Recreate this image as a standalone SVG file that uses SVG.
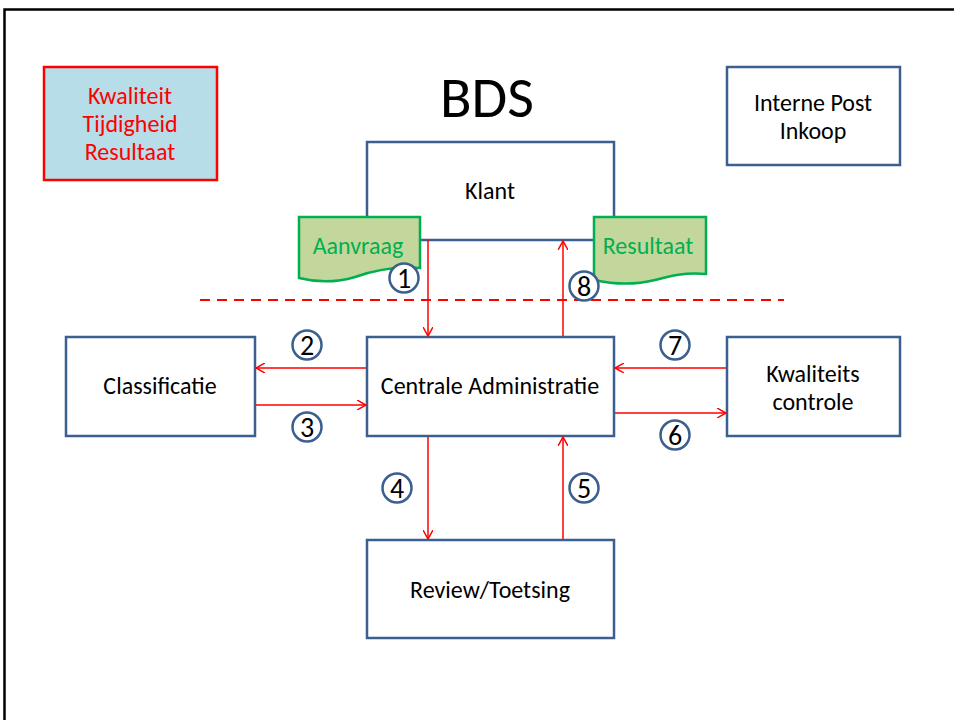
<svg xmlns="http://www.w3.org/2000/svg" width="954" height="720" viewBox="0 0 954 720">
<defs>
<marker id="ah" viewBox="0 0 10 10" refX="9" refY="5" markerWidth="10" markerHeight="10" markerUnits="userSpaceOnUse" orient="auto">
<path d="M0,0 L9,5 L0,10" fill="none" stroke="#ff0000" stroke-width="1.5"/>
</marker>
</defs>
<style>
text{font-family:"Carlito","Liberation Sans",Arial,sans-serif;text-anchor:middle}
.box{fill:#ffffff;stroke:#3b5f8e;stroke-width:2.5}
.lbl{font-size:24px;fill:#000}
.red{fill:#ff0000}
.doc{fill:#c3d69b;stroke:#00b050;stroke-width:2.5}
.doct{font-size:24px;fill:#00b050}
.num{fill:#fff;stroke:#3b5f8e;stroke-width:2.5}
.numt{font-size:28px;fill:#000}
.con{stroke:#ff0000;stroke-width:1.5;fill:none;marker-end:url(#ah)}
</style>
<rect x="0" y="0" width="954" height="720" fill="#fff"/>
<path d="M4.5,722 V9.5 H960" fill="none" stroke="#000" stroke-width="2.5"/>
<text x="487" y="117" style="font-size:58px" fill="#000">BDS</text>
<line x1="200" y1="300" x2="784" y2="300" stroke="#ff0000" stroke-width="2" stroke-dasharray="10,7"/>
<g id="kwaliteit">
<rect x="44" y="67" width="173" height="113" fill="#b7dde8" stroke="#ff0000" stroke-width="2.5"/>
<text x="130" y="104" class="lbl red">Kwaliteit</text>
<text x="130" y="132" class="lbl red">Tijdigheid</text>
<text x="130" y="160" class="lbl red">Resultaat</text>
</g>
<g id="interne-post">
<rect x="727" y="67" width="173" height="98" class="box"/>
<text x="813" y="111" class="lbl">Interne Post</text>
<text x="813" y="139" class="lbl">Inkoop</text>
</g>
<g id="klant">
<rect x="367" y="142" width="247" height="98" class="box"/>
<text x="490" y="199" class="lbl">Klant</text>
</g>
<g id="aanvraag">
<path d="M299,217 H420 V268 C395,266 375,270 355,277 C335,283 315,282 299,278 Z" class="doc"/>
<text x="358" y="254" class="doct">Aanvraag</text>
</g>
<g id="resultaat">
<path d="M594,217 H706 V274 C685,272 670,276 655,280 C635,285 612,284 594,280 Z" class="doc"/>
<text x="648" y="254" class="doct">Resultaat</text>
</g>
<g id="centrale">
<rect x="367" y="337" width="247" height="99" class="box"/>
<text x="490" y="394" class="lbl">Centrale Administratie</text>
</g>
<g id="classificatie">
<rect x="66" y="337" width="189" height="99" class="box"/>
<text x="160" y="394" class="lbl">Classificatie</text>
</g>
<g id="kwaliteitscontrole">
<rect x="727" y="337" width="173" height="99" class="box"/>
<text x="813" y="382" class="lbl">Kwaliteits</text>
<text x="813" y="410" class="lbl">controle</text>
</g>
<g id="review">
<rect x="367" y="540" width="247" height="98" class="box"/>
<text x="490" y="598" class="lbl">Review/Toetsing</text>
</g>
<g id="connectors">
<line x1="428" y1="240" x2="428" y2="336" class="con"/>
<line x1="563" y1="336" x2="563" y2="241" class="con"/>
<line x1="366" y1="368" x2="256" y2="368" class="con"/>
<line x1="256" y1="405" x2="366" y2="405" class="con"/>
<line x1="428" y1="437" x2="428" y2="539" class="con"/>
<line x1="563" y1="539" x2="563" y2="437" class="con"/>
<line x1="615" y1="413" x2="726" y2="413" class="con"/>
<line x1="726" y1="368" x2="615" y2="368" class="con"/>
</g>
<g id="n1"><circle cx="404" cy="278" r="14.5" class="num"/><text x="404" y="288" class="numt">1</text></g>
<g id="n8"><circle cx="584" cy="286" r="14.5" class="num"/><text x="584" y="296" class="numt">8</text></g>
<g id="n2"><circle cx="307" cy="345" r="14.5" class="num"/><text x="307" y="355" class="numt">2</text></g>
<g id="n3"><circle cx="307" cy="427" r="14.5" class="num"/><text x="307" y="437" class="numt">3</text></g>
<g id="n7"><circle cx="675" cy="345" r="14.5" class="num"/><text x="675" y="355" class="numt">7</text></g>
<g id="n6"><circle cx="675" cy="435" r="14.5" class="num"/><text x="675" y="445" class="numt">6</text></g>
<g id="n4"><circle cx="397" cy="488" r="14.5" class="num"/><text x="397" y="498" class="numt">4</text></g>
<g id="n5"><circle cx="584" cy="488" r="14.5" class="num"/><text x="584" y="498" class="numt">5</text></g>
</svg>
